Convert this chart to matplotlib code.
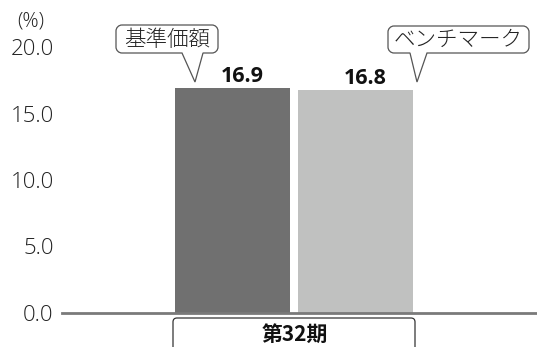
import matplotlib
matplotlib.use("Agg")
import matplotlib.pyplot as plt
from matplotlib.path import Path
from matplotlib.patches import PathPatch, FancyBboxPatch

plt.rcParams['font.family'] = ['Noto Sans CJK JP', 'DejaVu Sans']
LATIN = ['Open Sans', 'Noto Sans CJK JP', 'DejaVu Sans']

# data
category = "第32期"
series_names = ["基準価額", "ベンチマーク"]
values = [16.9, 16.8]
colors = ["#707070", "#c0c1c0"]
yticks = [0, 5, 10, 15, 20]
ytick_labels = ["0.0", "5.0", "10.0", "15.0", "20.0"]
unit_label = "(%)"

W, H = 537, 347
fig = plt.figure(figsize=(W / 100, H / 100), dpi=100)

# main axes in pixel placement: left 62, right 537, y=0 at 313, y=20 at 47
ax = fig.add_axes([62 / W, (H - 313) / H, (537 - 62) / W, (313 - 47) / H])
ax.set_ylim(0, 20)
ax.set_xlim(-0.947, 0.992)

bar_w = 0.47
gap = 0.03
offsets = [-(bar_w + gap) / 2, (bar_w + gap) / 2]
for off, v, c in zip(offsets, values, colors):
    ax.bar(off, v, width=bar_w, color=c, zorder=2)
    ax.annotate(f"{v:.1f}", xy=(off, v), xytext=(10, 1), textcoords="offset pixels",
                ha="center", va="bottom", fontsize=15.5, fontweight="bold",
                family=LATIN, color="#111111", zorder=4)

for s in ["top", "right", "left"]:
    ax.spines[s].set_visible(False)
ax.spines["bottom"].set_color("#7a7a7a")
ax.spines["bottom"].set_linewidth(2.0)
ax.spines["bottom"].set_zorder(3)
ax.set_xticks([])
ax.set_yticks(yticks)
ax.set_yticklabels(ytick_labels, fontsize=16, color="#222222", fontweight="light",
                   family=LATIN)
ax.tick_params(axis="y", length=0, pad=6)
ax.patch.set_alpha(0)

# overlay axes in pixel coordinates for callouts and category box
ov = fig.add_axes([0, 0, 1, 1], zorder=5)
ov.set_xlim(0, W)
ov.set_ylim(H, 0)
ov.axis("off")
ov.patch.set_alpha(0)

ov.text(31, 21, unit_label, ha="center", va="center", fontsize=14.5,
        color="#222222", fontweight="light", family=LATIN)


def callout(x0, x1, y0, y1, bl, br, tip, r=6):
    """Rounded box with a pointer on its bottom edge."""
    k = 0.55
    verts = [
        (x0 + r, y0), (x1 - r, y0),
        (x1 - r + r * k, y0), (x1, y0 + r - r * k), (x1, y0 + r),
        (x1, y1 - r),
        (x1, y1 - r + r * k), (x1 - r + r * k, y1), (x1 - r, y1),
        (br, y1), tip, (bl, y1),
        (x0 + r, y1),
        (x0 + r - r * k, y1), (x0, y1 - r + r * k), (x0, y1 - r),
        (x0, y0 + r),
        (x0, y0 + r - r * k), (x0 + r - r * k, y0), (x0 + r, y0),
    ]
    codes = [
        Path.MOVETO, Path.LINETO,
        Path.CURVE4, Path.CURVE4, Path.CURVE4,
        Path.LINETO,
        Path.CURVE4, Path.CURVE4, Path.CURVE4,
        Path.LINETO, Path.LINETO, Path.LINETO,
        Path.LINETO,
        Path.CURVE4, Path.CURVE4, Path.CURVE4,
        Path.LINETO,
        Path.CURVE4, Path.CURVE4, Path.CURVE4,
    ]
    ov.add_patch(PathPatch(Path(verts, codes), facecolor="white",
                           edgecolor="#555555", lw=0.9, zorder=5))


callout(116, 218, 25, 53, 182, 203, (195, 82))
ov.text(167, 40, series_names[0], ha="center", va="center", fontsize=15.5,
        color="#222222", fontweight="light", zorder=6)

callout(388, 529, 26, 53, 410, 427, (417, 82))
ov.text(458.5, 40, series_names[1], ha="center", va="center", fontsize=15.5,
        color="#222222", fontweight="light", zorder=6)

# category label box
ov.add_patch(FancyBboxPatch((173, 318), 415 - 173, 60,
                            boxstyle="round,pad=0,rounding_size=4",
                            facecolor="white", edgecolor="#333333", lw=0.9, zorder=5))
ov.text(295, 334, category, ha="center", va="center", fontsize=15,
        fontweight="bold", color="#111111", zorder=6)

fig.savefig("out.png", dpi=100)
